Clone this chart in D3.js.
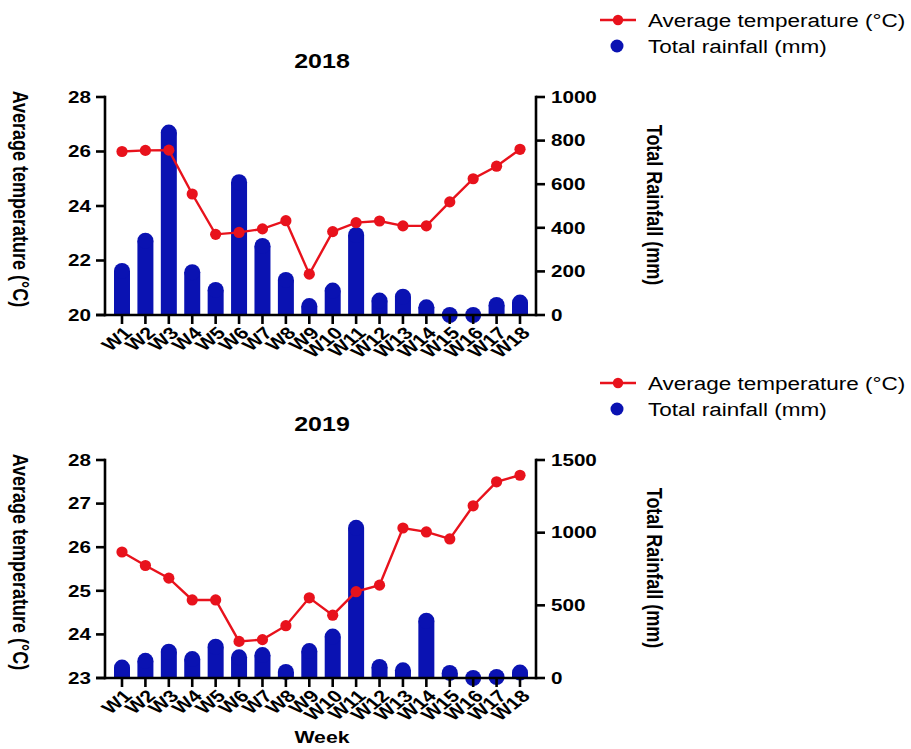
<!DOCTYPE html>
<html><head><meta charset="utf-8">
<script src="https://cdn.jsdelivr.net/npm/d3@7"></script>
<style>body{margin:0;background:#fff}svg{display:block}text{font-family:"Liberation Sans",Arial,sans-serif}</style>
</head><body><svg id="c" width="911" height="749"></svg>
<script>
const weeks = ["W1","W2","W3","W4","W5","W6","W7","W8","W9","W10","W11","W12","W13","W14","W15","W16","W17","W18"];
const temp2018 = [26.0, 26.04, 26.05, 24.44, 22.96, 23.03, 23.16, 23.46, 21.5, 23.06, 23.39, 23.45, 23.27, 23.27, 24.15, 25.0, 25.46, 26.08];
const rain2018 = [202, 341, 837, 196, 115, 609, 317, 161, 41, 112, 367, 66, 84, 35, 0, 0, 46, 57];
const temp2019 = [25.89, 25.58, 25.29, 24.79, 24.79, 23.84, 23.88, 24.2, 24.84, 24.44, 24.98, 25.13, 26.44, 26.35, 26.19, 26.95, 27.5, 27.65];
const rain2019 = [72, 118, 181, 130, 215, 142, 158, 42, 185, 285, 1033, 76, 53, 394, 35, 0, 7, 37];
const tempTicks2018 = [20, 22, 24, 26, 28];
const rainTicks2018 = [0, 200, 400, 600, 800, 1000];
const tempTicks2019 = [23, 24, 25, 26, 27, 28];
const rainTicks2019 = [0, 500, 1000, 1500];
const legendLabels = ["Average temperature (\u00B0C)", "Total rainfall (mm)"];

const RED = "#e8121c", BLUE = "#0a12b2";
const SX = 1.25;
const svg = d3.select("#c");

function stext(g, x, y, str, opt) {
  const rot = opt.rot || 0;
  return g.append("text")
    .attr("transform", `translate(${x},${y}) scale(${opt.sx || SX},1) rotate(${rot})`)
    .attr("text-anchor", opt.anchor || "start")
    .attr("dominant-baseline", opt.base || "auto")
    .attr("font-size", opt.size)
    .attr("font-weight", opt.weight || "normal")
    .attr("fill", "#000")
    .text(str);
}

function panel(oy, title, temps, rains, tTicks, rTicks, showWeek) {
  const g = svg.append("g").attr("transform", `translate(0,${oy})`);
  const L = 105, R = 536, T = 97, B = 315;
  const x = d3.scalePoint().domain(weeks).range([122, 520]);
  const yT = d3.scaleLinear().domain([tTicks[0], tTicks[tTicks.length - 1]]).range([B, T]);
  const yR = d3.scaleLinear().domain([rTicks[0], rTicks[rTicks.length - 1]]).range([B, T]);
  const bw = 16;

  // bars
  const bars = g.append("g").attr("fill", BLUE);
  bars.selectAll("rect").data(rains).join("rect")
    .attr("x", (d, i) => x(weeks[i]) - bw / 2).attr("width", bw)
    .attr("y", d => yR(d)).attr("height", d => yR(0) - yR(d));
  bars.selectAll("circle").data(rains).join("circle")
    .attr("cx", (d, i) => x(weeks[i])).attr("cy", d => yR(d)).attr("r", bw / 2);

  // axes
  const ax = g.append("g").attr("stroke", "#000").attr("stroke-width", 2.6).attr("fill", "none");
  ax.append("line").attr("x1", L).attr("x2", L).attr("y1", T - 1.3).attr("y2", B + 1.3);
  ax.append("line").attr("x1", R).attr("x2", R).attr("y1", T - 1.3).attr("y2", B + 1.3);
  ax.append("line").attr("x1", L - 9).attr("x2", R).attr("y1", B).attr("y2", B);
  tTicks.forEach(t => ax.append("line").attr("x1", L - 9).attr("x2", L).attr("y1", yT(t)).attr("y2", yT(t)));
  rTicks.forEach(t => ax.append("line").attr("x1", R).attr("x2", R + 9).attr("y1", yR(t)).attr("y2", yR(t)));
  weeks.forEach(w => ax.append("line").attr("x1", x(w)).attr("x2", x(w)).attr("y1", B).attr("y2", B + 9));

  tTicks.forEach(t => stext(g, L - 14, yT(t), String(t), {anchor: "end", base: "central", size: 16.5, weight: "bold"}));
  rTicks.forEach(t => stext(g, R + 15, yR(t), String(t), {anchor: "start", base: "central", size: 16.5, weight: "bold"}));
  weeks.forEach(w => stext(g, x(w) + 6, B + 15, w, {anchor: "end", base: "central", size: 17, weight: "bold", rot: -45}));

  // line
  const line = d3.line().x((d, i) => x(weeks[i])).y(d => yT(d));
  g.append("path").datum(temps).attr("d", line).attr("fill", "none").attr("stroke", RED).attr("stroke-width", 2.4);
  g.append("g").attr("fill", RED).selectAll("circle").data(temps).join("circle")
    .attr("cx", (d, i) => x(weeks[i])).attr("cy", d => yT(d)).attr("r", 5.6);

  // titles
  stext(g, 322, 68, title, {anchor: "middle", size: 20, weight: "bold"});
  stext(g, 21, 199, legendLabels[0], {anchor: "middle", base: "central", size: 18, weight: "bold", rot: 90});
  stext(g, 655, 205, "Total Rainfall (mm)", {anchor: "middle", base: "central", size: 18, weight: "bold", rot: 90});

  // legend
  g.append("line").attr("x1", 600).attr("x2", 636).attr("y1", 20).attr("y2", 20).attr("stroke", RED).attr("stroke-width", 2.4);
  g.append("circle").attr("cx", 618).attr("cy", 20).attr("r", 5.2).attr("fill", RED);
  g.append("circle").attr("cx", 617).attr("cy", 46).attr("r", 6.5).attr("fill", BLUE);
  stext(g, 648, 27, legendLabels[0], {size: 18});
  stext(g, 648, 53, legendLabels[1], {size: 18});

  if (showWeek) stext(g, 322, 743 - oy, "Week", {anchor: "middle", size: 17, weight: "bold"});
}

panel(0, "2018", temp2018, rain2018, tempTicks2018, rainTicks2018, false);
panel(363, "2019", temp2019, rain2019, tempTicks2019, rainTicks2019, true);
</script></body></html>
